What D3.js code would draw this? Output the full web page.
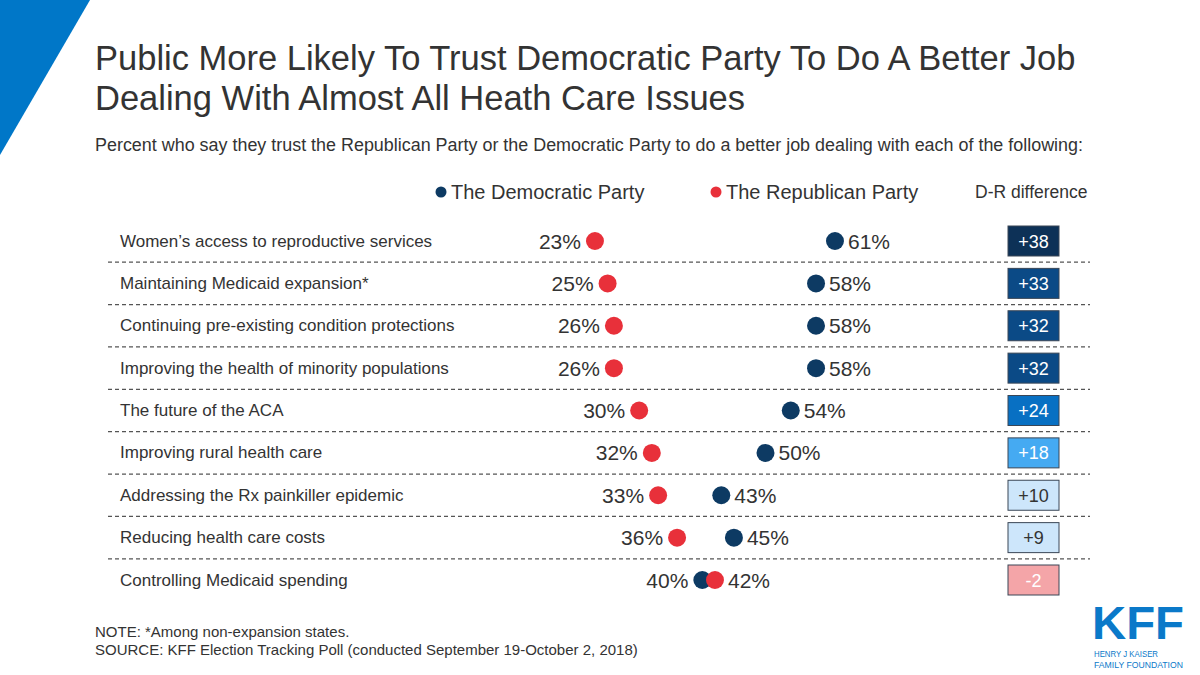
<!DOCTYPE html>
<html>
<head>
<meta charset="utf-8">
<script src="https://cdn.jsdelivr.net/npm/d3@7"></script>
<style>
  body { margin: 0; background: #fff; }
  text { font-family: "Liberation Sans", Arial, sans-serif; fill: #333; }
</style>
</head>
<body>
<div id="chart"></div>
<script>
const issues = [
  'Women\u2019s access to reproductive services',
  'Maintaining  Medicaid expansion*',
  'Continuing pre-existing condition protections',
  'Improving the health of minority populations',
  'The future of the ACA',
  'Improving rural health care',
  'Addressing the Rx painkiller epidemic',
  'Reducing health care costs',
  'Controlling Medicaid spending'
];
const demValues = [61, 58, 58, 58, 54, 50, 43, 45, 40];
const repValues = [23, 25, 26, 26, 30, 32, 33, 36, 42];
const diffLabels = ['+38', '+33', '+32', '+32', '+24', '+18', '+10', '+9', '-2'];
const diffFills = ['#0d3157', '#0b4a86', '#0b4a86', '#0b4a86', '#0870c3', '#45aaf2', '#cde6fb', '#cde6fb', '#f4a5a8'];
const diffText = ['#fff', '#fff', '#fff', '#fff', '#fff', '#fff', '#333', '#333', '#fff'];

const W = 1200, H = 675;
const demColor = '#0d3a63', repColor = '#e8303a';

const svg = d3.select('#chart').append('svg').attr('width', W).attr('height', H);

// corner triangle
svg.append('polygon').attr('points', '0,0 90,0 0,155').attr('fill', '#0077c8');

// title
const title = ['Public More Likely To Trust Democratic Party To Do A Better Job',
  'Dealing With Almost All Heath Care Issues'];
svg.selectAll('.title').data(title).enter().append('text')
  .attr('x', 95).attr('y', (d, i) => 70 + i * 40)
  .style('font-size', '34.5px').text(d => d);

svg.append('text').attr('x', 95).attr('y', 151).style('font-size', '17.5px')
  .attr('textLength', 988).attr('lengthAdjust', 'spacingAndGlyphs')
  .text('Percent who say they trust the Republican Party or the Democratic Party to do a better job dealing with each of the following:');

// legend
const legend = [{ label: 'The Democratic Party', color: demColor, x: 441 }, { label: 'The Republican Party', color: repColor, x: 716 }];
const lg = svg.selectAll('.lg').data(legend).enter().append('g');
lg.append('circle').attr('cx', d => d.x).attr('cy', 192).attr('r', 5.5).attr('fill', d => d.color);
lg.append('text').attr('x', d => d.x + 10).attr('y', 199).style('font-size', '20px').text(d => d.label);
svg.append('text').attr('x', 975).attr('y', 198).style('font-size', '17.5px').text('D-R difference');

// scales
const x = d3.scaleLinear().domain([0, 100]).range([449.7, 1081.3]);
const y = d3.scalePoint().domain(issues).range([241, 580]);
const step = y.step();

const rows = issues.map((d, i) => ({ issue: d, dem: demValues[i], rep: repValues[i], diff: diffLabels[i], fill: diffFills[i], tc: diffText[i] }));

// separators
svg.selectAll('.sep').data(issues.slice(0, -1)).enter().append('line')
  .attr('x1', 108).attr('x2', 1090)
  .attr('y1', d => y(d) + step / 2).attr('y2', d => y(d) + step / 2)
  .attr('stroke', '#555').attr('stroke-width', 1.3).attr('stroke-dasharray', '4,3');

const row = svg.selectAll('.row').data(rows).enter().append('g');

row.append('text').attr('x', 120).attr('y', d => y(d.issue) + 5.5)
  .style('font-size', '17px').text(d => d.issue);

row.append('circle').attr('cx', d => x(d.dem)).attr('cy', d => y(d.issue)).attr('r', 9).attr('fill', demColor);
row.append('circle').attr('cx', d => x(d.rep)).attr('cy', d => y(d.issue)).attr('r', 9).attr('fill', repColor);

// labels: lower value on the left, higher on the right
row.append('text')
  .attr('x', d => x(Math.min(d.dem, d.rep)) - 14).attr('y', d => y(d.issue) + 7.5)
  .attr('text-anchor', 'end').style('font-size', '21px')
  .text(d => Math.min(d.dem, d.rep) + '%');
row.append('text')
  .attr('x', d => x(Math.max(d.dem, d.rep)) + 13).attr('y', d => y(d.issue) + 7.5)
  .style('font-size', '21px')
  .text(d => Math.max(d.dem, d.rep) + '%');

// difference boxes
row.append('rect').attr('x', 1008).attr('y', d => y(d.issue) - 15).attr('width', 51).attr('height', 30)
  .attr('fill', d => d.fill).attr('stroke', '#3a4656').attr('stroke-width', 1);
row.append('text').attr('x', 1033.5).attr('y', d => y(d.issue) + 6.5).attr('text-anchor', 'middle')
  .style('font-size', '18px').style('fill', d => d.tc).text(d => d.diff);

// footnotes
svg.append('text').attr('x', 95).attr('y', 637).style('font-size', '15px').text('NOTE: *Among non-expansion states.');
svg.append('text').attr('x', 95).attr('y', 655).style('font-size', '15px').text('SOURCE: KFF Election Tracking Poll (conducted September 19-October 2, 2018)');

// logo
const logo = svg.append('g');
logo.append('text').attr('x', 1092).attr('y', 639).style('font-size', '46px').style('font-weight', 'bold')
  .style('fill', '#0a79c9').attr('textLength', 92).attr('lengthAdjust', 'spacingAndGlyphs').text('KFF');
logo.append('text').attr('x', 1094).attr('y', 657).style('font-size', '9px').style('fill', '#0a79c9')
  .attr('textLength', 64).attr('lengthAdjust', 'spacingAndGlyphs').text('HENRY J KAISER');
logo.append('text').attr('x', 1094).attr('y', 668).style('font-size', '9px').style('fill', '#0a79c9')
  .attr('textLength', 89).attr('lengthAdjust', 'spacingAndGlyphs').text('FAMILY FOUNDATION');
</script>
</body>
</html>
